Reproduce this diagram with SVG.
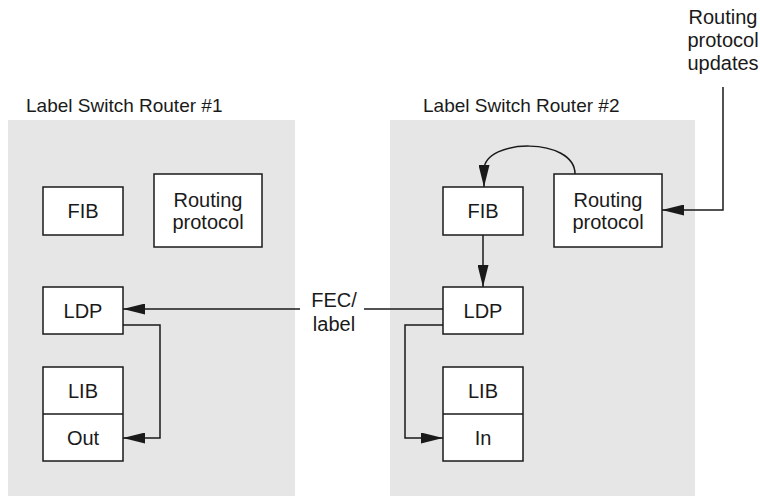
<svg xmlns="http://www.w3.org/2000/svg" width="760" height="496" viewBox="0 0 760 496">
<style>
.panel{fill:#e6e6e6;stroke:none}
.box{fill:#fff;stroke:#1a1a1a;stroke-width:1.5}
.t{font-family:"Liberation Sans",Arial,sans-serif;font-size:20px;fill:#1a1a1a;text-anchor:middle}
.title{font-family:"Liberation Sans",Arial,sans-serif;font-size:19px;fill:#1a1a1a}
.c{fill:none;stroke:#1a1a1a;stroke-width:1.5}
</style>
<defs>
<marker id="ah" markerUnits="userSpaceOnUse" markerWidth="22" markerHeight="11" refX="22" refY="5.5" orient="auto">
<path d="M0,0 L22,5.5 L0,11 z" fill="#1a1a1a"/>
</marker>
</defs>
<rect class="panel" x="8" y="120" width="287" height="376"/>
<rect class="panel" x="390" y="120" width="305" height="376"/>
<text class="title" x="26" y="112">Label Switch Router #1</text>
<text class="title" x="423" y="112">Label Switch Router #2</text>
<g id="fib1"><rect class="box" x="43" y="187" width="80" height="48"/><text class="t" x="83" y="218">FIB</text></g>
<g id="rp1"><rect class="box" x="154" y="174" width="108" height="73"/><text class="t" x="208" y="207">Routing</text><text class="t" x="208" y="229">protocol</text></g>
<g id="ldp1"><rect class="box" x="43" y="287" width="80" height="47"/><text class="t" x="83" y="318">LDP</text></g>
<g id="lib1"><rect class="box" x="43" y="367" width="80" height="94"/><line class="box" x1="43" y1="414" x2="123" y2="414"/><text class="t" x="83" y="398">LIB</text><text class="t" x="83" y="445">Out</text></g>
<g id="fib2"><rect class="box" x="443" y="187" width="80" height="48"/><text class="t" x="483" y="218">FIB</text></g>
<g id="rp2"><rect class="box" x="554" y="174" width="108" height="73"/><text class="t" x="608" y="207">Routing</text><text class="t" x="608" y="229">protocol</text></g>
<g id="ldp2"><rect class="box" x="443" y="287" width="80" height="47"/><text class="t" x="483" y="318">LDP</text></g>
<g id="lib2"><rect class="box" x="443" y="367" width="80" height="94"/><line class="box" x1="443" y1="414" x2="523" y2="414"/><text class="t" x="483" y="398">LIB</text><text class="t" x="483" y="445">In</text></g>
<g id="updates"><text class="t" x="723" y="24">Routing</text><text class="t" x="723" y="47">protocol</text><text class="t" x="723" y="70">updates</text></g>
<g id="feclabel"><text class="t" x="334" y="307">FEC/</text><text class="t" x="334" y="331">label</text></g>
<g id="connectors">
<path class="c" d="M300,309 H123" marker-end="url(#ah)"/>
<path class="c" d="M443,309 H364"/>
<path class="c" d="M123,325 H160 V438 H123" marker-end="url(#ah)"/>
<path class="c" d="M443,325 H405 V438 H443" marker-end="url(#ah)"/>
<path class="c" d="M483,235 V287" marker-end="url(#ah)"/>
<path class="c" d="M575,174 C575,137 484,138 484,170 V187" marker-end="url(#ah)"/>
<path class="c" d="M723,87 V210 H662" marker-end="url(#ah)"/>
</g>
</svg>
